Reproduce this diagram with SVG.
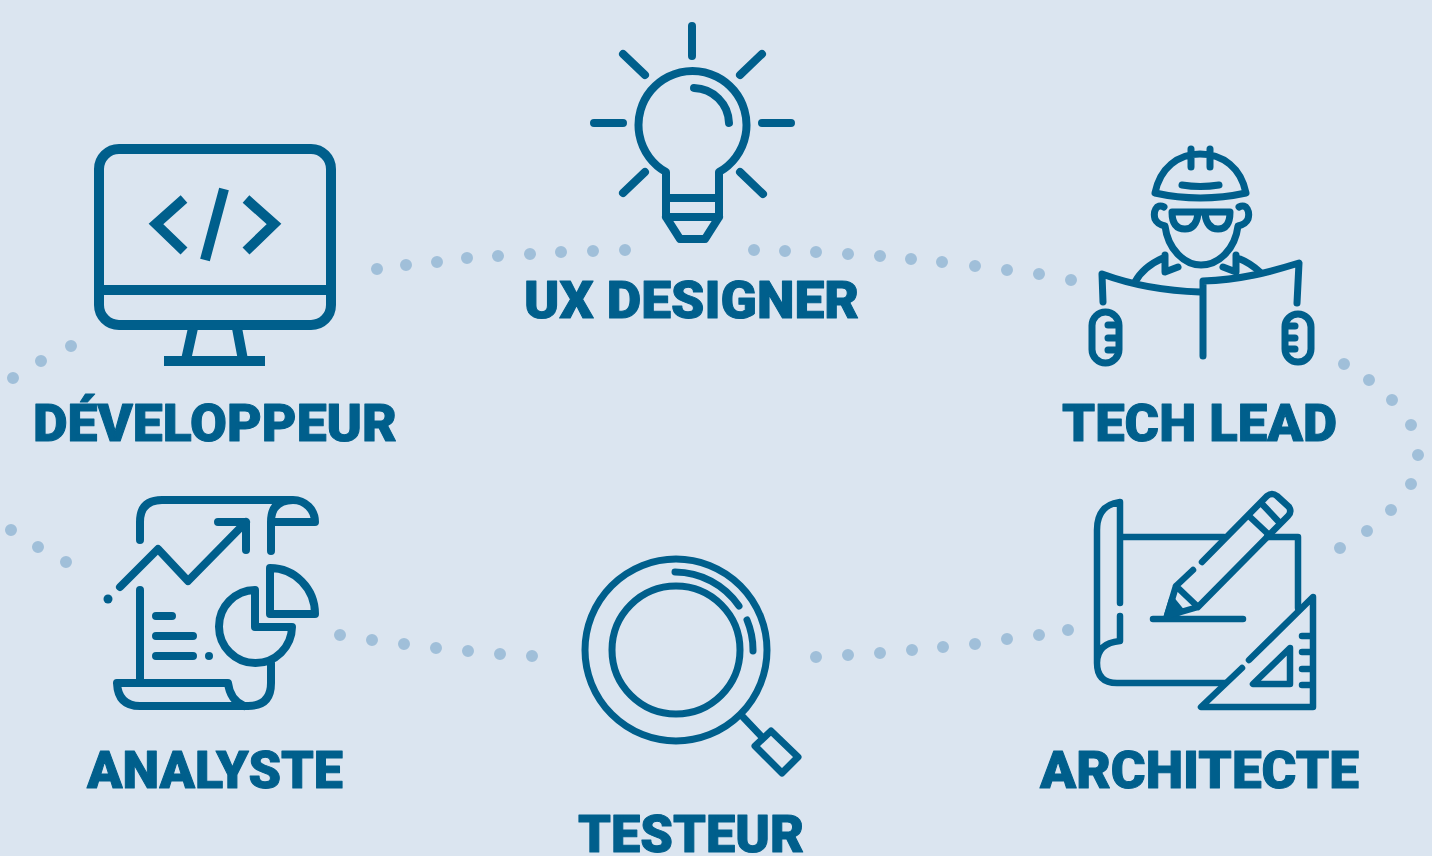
<svg xmlns="http://www.w3.org/2000/svg" width="1432" height="856" viewBox="0 0 1432 856">
<style>
.l{font-family:Roboto,"Liberation Sans",sans-serif;font-weight:900;font-size:51px;fill:#005f8c;stroke:#005f8c;stroke-width:1;stroke-linejoin:round;text-anchor:start}
.i{fill:none;stroke:#005f8c;stroke-width:8;stroke-linecap:round;stroke-linejoin:round}
.d{fill:none;stroke:#a0bfd9;stroke-width:12;stroke-linecap:round}
</style>
<rect width="1432" height="856" fill="#dbe5f0"/>
<g id="connectors" class="d">
<path d="M71 346h0M41 361h0M13 378h0"/>
<path d="M377 269h0M406 265h0M437 262h0M467 258h0M498 256h0M530 254h0M561 252h0M593 251h0M625 250h0"/>
<path d="M754 250h0M785 251h0M816 252h0M848 254h0M880 256h0M911 259h0M942 262h0M975 266h0M1007 270h0M1039 274h0M1071 280h0"/>
<path d="M1344 364h0M1369 380h0M1392 400h0M1411 425h0M1418 455h0M1411 484h0M1391 510h0M1367 531h0M1340 548h0"/>
<path d="M11 530h0M38 547h0M66 562h0"/>
<path d="M340 635h0M372 640h0M404 644h0M436 648h0M468 651h0M500 654h0M532 656h0"/>
<path d="M816 657h0M848 655h0M880 653h0M912 650h0M943 647h0M975 644h0M1007 639h0M1039 635h0M1068 630h0"/>
</g>
<g id="ux-designer">
<path class="i" d="M692 26V56M623 54L645 75M762 54L740 75M594 123H623M762 123H791M645 172L623 193M740 172L763 194M666 217V172A54 54 0 1 1 719 172V217M666 198H719M666 217H719M666 217L680 239H705L719 217M694 88A36 36 0 0 1 729 123"/>
<text class="l" x="524" y="318" textLength="335" lengthAdjust="spacingAndGlyphs">UX DESIGNER</text>
</g>
<g id="developpeur">
<g class="i" style="stroke-width:10;stroke-linecap:butt;stroke-linejoin:miter">
<rect x="99" y="149" width="232" height="176" rx="20"/>
<path d="M99 290H331M193 328L186 360M237 328L243 360M164 361H265M184 199L156 224L184 251M246 199L274 224L246 251M224 189L205 260"/>
</g>
<text class="l" x="33" y="441" textLength="364" lengthAdjust="spacingAndGlyphs">DÉVELOPPEUR</text>
</g>
<g id="tech-lead">
<g class="i" style="stroke-width:7">
<path d="M1155 193C1160 168 1178 154 1200 154C1223 154 1241 168 1246 193Q1200 203 1155 193ZM1191 149V167M1210 149V167M1182 185Q1200 188 1219 185"/>
<path d="M1164 207C1156 203 1153 212 1155 219Q1157 224 1165 226C1168 250 1185 265 1201 265C1218 265 1235 250 1238 226Q1246 224 1248 219C1250 212 1247 203 1239 207"/>
<path d="M1172 212H1230M1172 212Q1172 229 1185 229Q1196 229 1198 214M1205 214Q1207 229 1218 229Q1230 229 1230 212"/>
<path d="M1165 255V272L1178 267M1236 255V272L1223 267M1135 282Q1143 267 1163 258M1240 259Q1250 263 1260 272"/>
<path d="M1103 302L1102 274C1135 286 1165 291 1200 292M1203 356V281C1240 280 1270 272 1299 263L1297 303"/>
<rect x="1092" y="312" width="27" height="51" rx="13.500"/>
<rect x="1285" y="314" width="26" height="48" rx="13"/>
<path d="M1108 325H1118M1108 338H1118M1108 350H1118M1286 326H1295M1286 338H1295M1286 349H1295"/>
</g>
<text class="l" x="1062" y="441" textLength="275" lengthAdjust="spacingAndGlyphs">TECH LEAD</text>
</g>
<g id="analyste">
<path class="i" d="M140 540V522Q140 500 162 500H293A22 22 0 0 1 315 522H271M271 551V522Q271 500 293 500M120 587L158 549L188 581L246 522M218 522H246V550M140 590V683M156 616H172M156 636H193M156 656H193M117 683H228Q230 700 244 706M117 683Q118 706 140 706H248Q271 706 271 683V663M255 590V627H292A36.500 36.500 0 1 1 255 590ZM270 568V614H315A45 46 0 0 0 270 568Z"/>
<circle cx="108" cy="599" r="4.500" fill="#005f8c"/>
<circle cx="209" cy="656" r="4" fill="#005f8c"/>
<text class="l" x="87" y="788" textLength="256" lengthAdjust="spacingAndGlyphs">ANALYSTE</text>
</g>
<g id="testeur">
<g class="i" style="stroke-width:7">
<circle cx="676" cy="650" r="91"/>
<circle cx="676" cy="650" r="64"/>
<path d="M675 572A78 78 0 0 1 739 606M747 620A78 78 0 0 1 753 651M743 717L762 737M771 731L798 757L782 773L755 746Z"/>
</g>
<text class="l" x="578" y="852" textLength="226" lengthAdjust="spacingAndGlyphs">TESTEUR</text>
</g>
<g id="architecte">
<g class="i" style="stroke-width:6.500">
<path d="M1120 603V502Q1097 505 1097 530V663Q1097 683 1117 683H1225M1120 616V641Q1097 643 1097 663M1120 537H1224M1267 537H1298V608"/>
<path d="M1202 562L1267 496Q1272 492 1277 496L1289 507Q1292 512 1288 516L1198 607L1167 616L1176 586L1193 570M1250 517L1267 533M1263 505L1278 521M1176 586L1198 607M1153 619H1243"/>
<path d="M1167 616L1172 600L1181 611Z" fill="#005f8c"/>
<path d="M1242 668L1201 707H1313V597L1249 660M1253 684H1290V648ZM1302 636H1312M1302 652H1312M1302 669H1312M1302 685H1312"/>
</g>
<text class="l" x="1040" y="788" textLength="319" lengthAdjust="spacingAndGlyphs">ARCHITECTE</text>
</g>
</svg>
